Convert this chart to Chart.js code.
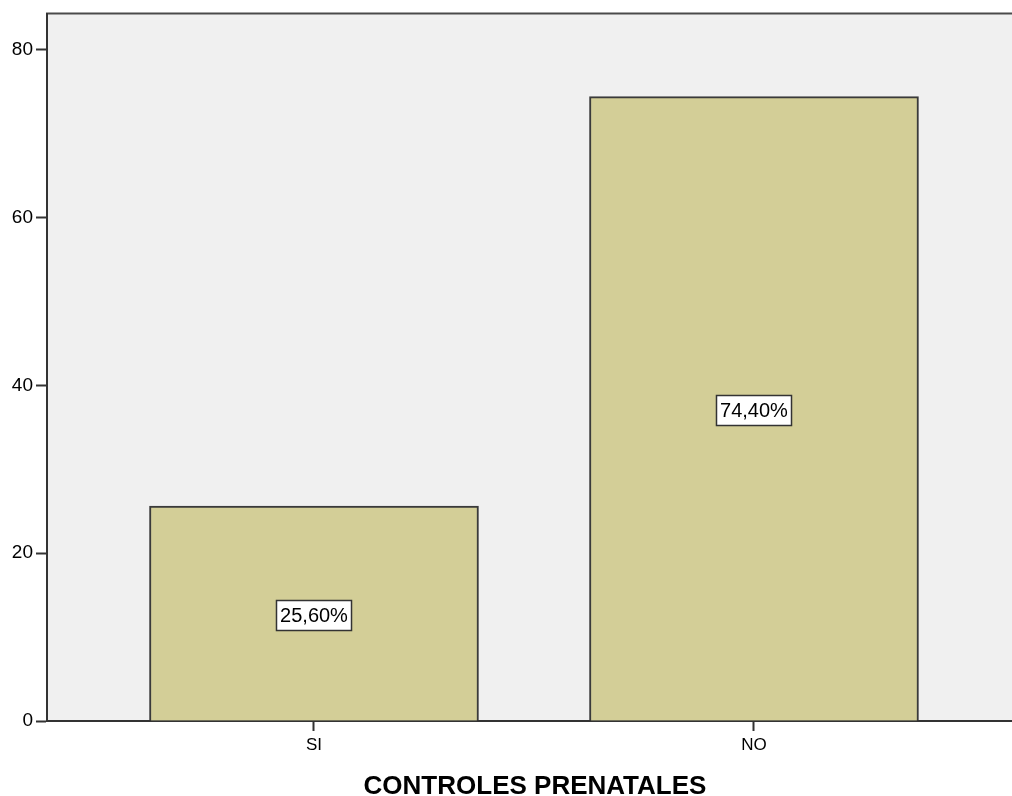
<!DOCTYPE html>
<html>
<head>
<meta charset="utf-8">
<script src="https://cdn.jsdelivr.net/npm/chart.js@4/dist/chart.umd.min.js"></script>
<style>
  html, body { margin: 0; padding: 0; background: #ffffff; overflow: hidden; }
  #wrap { width: 1012px; height: 796px; overflow: hidden; }
</style>
</head>
<body>
<div id="wrap"><canvas id="c" width="1023" height="796"></canvas></div>
<script>
// Controles prenatales: porcentaje de casos
const categories = ['SI', 'NO'];
const percentValues = [25.6, 74.4];
const yTicks = [0, 20, 40, 60, 80];
const axisTitle = 'CONTROLES PRENATALES';

const TICK_FONT = '"Liberation Sans", Arial, sans-serif';

// Plot background and top frame line
const frame = {
  id: 'frame',
  beforeDraw(chart) {
    const { ctx, chartArea: a } = chart;
    ctx.save();
    ctx.fillStyle = '#f0f0f0';
    ctx.fillRect(a.left, a.top, a.right - a.left, a.bottom - a.top);
    ctx.strokeStyle = '#4a4a4a';
    ctx.lineWidth = 2;
    ctx.beginPath();
    ctx.moveTo(a.left - 1, a.top - 1);
    ctx.lineTo(a.right, a.top - 1);
    ctx.stroke();
    ctx.restore();
  }
};

// Boxed percentage label in the middle of each bar
const boxLabels = {
  id: 'boxLabels',
  afterDatasetsDraw(chart) {
    const { ctx } = chart;
    const meta = chart.getDatasetMeta(0);
    const yScale = chart.scales.y;
    ctx.save();
    ctx.font = '20px ' + TICK_FONT;
    ctx.textAlign = 'center';
    ctx.textBaseline = 'middle';
    meta.data.forEach((bar, i) => {
      const v = percentValues[i];
      const text = v.toFixed(2).replace('.', ',') + '%';
      const cx = bar.x;
      const cy = yScale.getPixelForValue(v / 2) + 2;
      const w = ctx.measureText(text).width + 8;
      const h = 31;
      ctx.fillStyle = '#ffffff';
      ctx.fillRect(Math.round(cx - w / 2), Math.round(cy - h / 2), Math.round(w), h);
      ctx.strokeStyle = '#333333';
      ctx.lineWidth = 1.5;
      ctx.strokeRect(Math.round(cx - w / 2) + 0.5, Math.round(cy - h / 2) + 0.5, Math.round(w) - 1, h - 1);
      ctx.fillStyle = '#000000';
      ctx.fillText(text, cx, cy + 1);
    });
    ctx.restore();
  }
};

new Chart(document.getElementById('c'), {
  type: 'bar',
  data: {
    datasets: [{
      data: categories.map((c, i) => ({ x: i, y: percentValues[i] })),
      backgroundColor: '#d3ce97',
      borderColor: '#3a3a3a',
      borderWidth: 2,
      borderSkipped: 'bottom',
      barThickness: 329
    }]
  },
  options: {
    responsive: false,
    animation: false,
    events: [],
    layout: { padding: { top: 14, right: 0, bottom: 0, left: 0 } },
    plugins: {
      legend: { display: false },
      tooltip: { enabled: false }
    },
    scales: {
      x: {
        type: 'linear',
        offset: false,
        min: -0.6068,
        max: 1.6114,
        afterBuildTicks(scale) {
          scale.ticks = categories.map((c, i) => ({ value: i }));
        },
        afterFit(scale) { scale.height = 75; },
        ticks: {
          callback: (v) => categories[v],
          color: '#000000',
          font: { family: TICK_FONT, size: 17 },
          padding: 4,
          maxRotation: 0,
          autoSkip: false
        },
        grid: {
          display: true,
          offset: false,
          drawOnChartArea: false,
          drawTicks: true,
          tickLength: 10,
          tickWidth: 2,
          color: '#333333'
        },
        border: { display: true, color: '#333333', width: 2 },
        title: {
          display: true,
          text: axisTitle,
          color: '#000000',
          font: { family: '"Liberation Sans", Arial, sans-serif', size: 26, weight: 'bold' },
          padding: { top: 0, bottom: -6 }
        }
      },
      y: {
        min: 0,
        max: 84.2,
        afterBuildTicks(scale) {
          scale.ticks = yTicks.map(v => ({ value: v }));
        },
        afterFit(scale) { scale.width = 47; },
        ticks: {
          color: '#000000',
          font: { family: TICK_FONT, size: 19 },
          padding: 3
        },
        grid: {
          display: true,
          drawOnChartArea: false,
          drawTicks: true,
          tickLength: 11,
          tickWidth: 2,
          color: '#333333'
        },
        border: { display: true, color: '#333333', width: 2 }
      }
    }
  },
  plugins: [frame, boxLabels]
});
</script>
</body>
</html>
